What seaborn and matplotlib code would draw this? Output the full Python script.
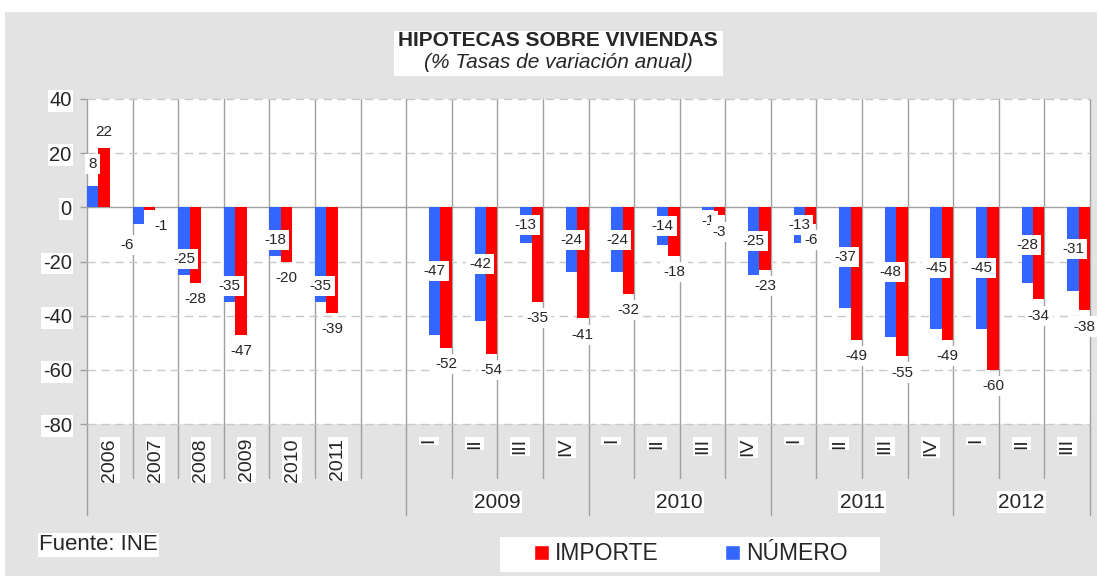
import numpy as np
import pandas as pd
import matplotlib
matplotlib.use("Agg")
import matplotlib.pyplot as plt
import seaborn as sns
from matplotlib.patches import Rectangle, Patch

# ---------------- data ----------------
annual_labels = ["2006", "2007", "2008", "2009", "2010", "2011"]
numero_annual = [8, -6, -25, -35, -18, -35]
importe_annual = [22, -1, -28, -47, -20, -39]

quarter_labels = ["I", "II", "III", "IV", "I", "II", "III", "IV",
                  "I", "II", "III", "IV", "I", "II", "III"]
quarter_years = ["2009", "2010", "2011", "2012"]
quarters_per_year = [4, 4, 4, 3]
numero_q = [-47, -42, -13, -24, -24, -14, -1, -25, -13, -37, -48, -45, -45, -28, -31]
importe_q = [-52, -54, -35, -41, -32, -18, -3, -23, -6, -49, -55, -49, -60, -34, -38]

series_names = ["NÚMERO", "IMPORTE"]
BLUE = "#3366FF"
RED = "#FF0000"
BG = "#E3E3E3"
GRID = "#C8C8C8"
LINE = "#A0A0A0"

sns.set_theme(style="white")
plt.rcParams["font.family"] = ["Liberation Sans", "DejaVu Sans"]

W, H = 1098, 576
fig = plt.figure(figsize=(W / 100, H / 100), dpi=100, facecolor="white")
fig.patches.append(Rectangle((5 / W, 0), (1097 - 5) / W, (576 - 12) / H,
                             transform=fig.transFigure, facecolor=BG,
                             edgecolor="none", zorder=-10))
ax = fig.add_axes([87 / W, 1 - 424 / H, (1090 - 87) / W, (424 - 99) / H])
ax.set_facecolor("white")

# slot layout: 6 annual slots, 1 blank slot, 15 quarterly slots
n_annual = len(annual_labels)
q_start = n_annual + 1
annual_pos = [i + 0.25 for i in range(n_annual)]
quarter_pos = [q_start + j + 0.75 for j in range(len(quarter_labels))]
positions = annual_pos + quarter_pos
numero = numero_annual + numero_q
importe = importe_annual + importe_q

df = pd.DataFrame({
    "pos": positions * 2,
    "value": numero + importe,
    "series": [series_names[0]] * len(positions) + [series_names[1]] * len(positions),
})

sns.barplot(data=df, x="pos", y="value", hue="series", hue_order=series_names,
            palette=[BLUE, RED], native_scale=True, width=0.5, dodge=True,
            errorbar=None, saturation=1, legend=False, linewidth=0, ax=ax, zorder=2)

n_slots = q_start + len(quarter_labels)
ax.set_xlim(0, n_slots)
ax.set_ylim(-80, 40)
ax.set_xlabel("")
ax.set_ylabel("")
ax.grid(False)
for s in ax.spines.values():
    s.set_visible(False)

# horizontal grid lines
yt = list(range(-80, 41, 20))
for y in yt:
    if y == 0:
        ax.axhline(0, color=LINE, lw=1, zorder=1.5)
    else:
        ax.plot([0, n_slots], [y, y], color=GRID, lw=1, ls=(0, (6, 4)),
                zorder=1, clip_on=False)

# vertical separators
y_short, y_long = -100, -113.7
group_bounds = [0, q_start]
acc = q_start
for n in quarters_per_year:
    acc += n
    group_bounds.append(acc)
for k in range(n_slots + 1):
    y0 = y_long if k in group_bounds else y_short
    ax.plot([k, k], [40, y0], color=LINE, lw=1, zorder=0.8, clip_on=False)

# y ticks
ax.set_yticks(yt)
ax.set_yticklabels([str(v) for v in yt])
ax.tick_params(axis="y", which="both", left=True, length=5, width=1,
               color=LINE, pad=6, labelsize=14.5, direction="out")
for lab in ax.get_yticklabels():
    lab.set_bbox(dict(facecolor="white", edgecolor="none", pad=1))
ax.set_xticks([])

# category labels
lab_top = -85.2
for i, t in enumerate(annual_labels):
    ax.text(i + 0.5, lab_top, t, rotation=90, ha="center", va="top",
            fontsize=14, clip_on=False,
            bbox=dict(facecolor="white", edgecolor="none", pad=1))
for j, t in enumerate(quarter_labels):
    ax.text(q_start + j + 0.5, lab_top, t, rotation=90, ha="center", va="top",
            fontsize=14, clip_on=False,
            bbox=dict(facecolor="white", edgecolor="none", pad=1))
for g, t in enumerate(quarter_years):
    a, b = group_bounds[g + 1], group_bounds[g + 2]
    ax.text((a + b) / 2, -108.8, t, ha="center", va="center", fontsize=15,
            clip_on=False, bbox=dict(facecolor="white", edgecolor="none", pad=1))

# data labels
lab_kw = dict(ha="center", va="center", fontsize=11, zorder=4,
              bbox=dict(boxstyle="square,pad=0.2", facecolor="white", edgecolor="none"))

def blue_y(v, annual):
    sgn = 1 if v >= 0 else -1
    if annual:
        return v + sgn * 8 if abs(v) < 10 else v - sgn * 6
    return v / 2 if abs(v) >= 5 else v - 4

for idx, p in enumerate(positions):
    annual = idx < n_annual
    vb, vr = numero[idx], importe[idx]
    xb, xr = p - 0.125, p + 0.125
    shift = 0.25 if (annual and vb < 0 and abs(vb) < 10) else 0
    ax.text(xb - shift, blue_y(vb, annual), f"{vb}", **lab_kw)
    sgn = 1 if vr >= 0 else -1
    shift = 0.25 if (annual and vr < 0 and abs(vr) < 10) else 0
    ax.text(xr + shift, vr + sgn * 6, f"{vr}", **lab_kw)

# title block
fig.patches.append(Rectangle((394 / W, 1 - 76 / H), 329 / W, 45 / H,
                             transform=fig.transFigure, facecolor="white",
                             edgecolor="none", zorder=-5))
fig.text(558 / W, 1 - 40 / H, "HIPOTECAS SOBRE VIVIENDAS", ha="center", va="center",
         fontsize=15, fontweight="bold")
fig.text(558 / W, 1 - 63 / H, "(% Tasas de variación anual)", ha="center", va="center",
         fontsize=15, style="italic")

# source
fig.text(39 / W, 1 - 545 / H, "Fuente: INE", ha="left", va="center", fontsize=16,
         bbox=dict(facecolor="white", edgecolor="none", pad=1))

# legend
fig.patches.append(Rectangle((500 / W, 1 - 572 / H), 380 / W, 35 / H,
                             transform=fig.transFigure, facecolor="white",
                             edgecolor="none", zorder=-5))
handles = [Patch(facecolor=RED, label="IMPORTE"), Patch(facecolor=BLUE, label="NÚMERO")]
fig.legend(handles=handles, ncol=2, frameon=False, loc="center",
           bbox_to_anchor=(691 / W, 1 - 554 / H), fontsize=16.5,
           handlelength=0.65, handleheight=0.6, handletextpad=0.25,
           columnspacing=2.9, borderpad=0, borderaxespad=0)

fig.savefig("out.png", dpi=100, facecolor=fig.get_facecolor())
